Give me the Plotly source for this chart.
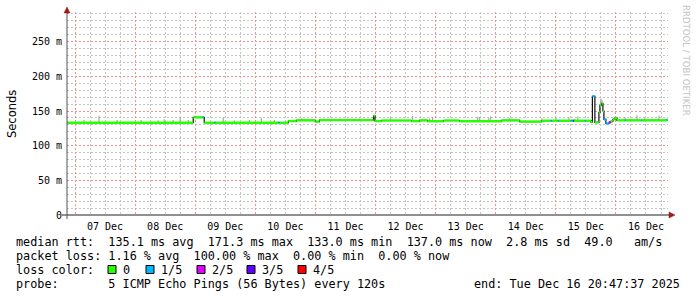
import plotly.graph_objects as go
import pandas as pd

# ---------------- data ----------------
start_time = "2025-12-06 20:47:37"
end_time = "2025-12-16 20:47:37"

med_time = [
    "2025-12-06 20:47", "2025-12-08 23:12", "2025-12-09 03:00", "2025-12-09 03:36",
    "2025-12-09 07:36", "2025-12-09 08:00", "2025-12-10 09:12", "2025-12-10 09:36",
    "2025-12-10 13:12", "2025-12-10 16:24", "2025-12-11 00:00", "2025-12-11 01:36",
    "2025-12-11 23:12", "2025-12-11 23:48", "2025-12-12 02:24", "2025-12-12 14:24",
    "2025-12-12 17:36", "2025-12-12 20:48", "2025-12-13 03:12", "2025-12-13 09:36",
    "2025-12-14 02:24", "2025-12-14 09:36", "2025-12-14 18:24", "2025-12-14 22:00",
    "2025-12-14 22:24", "2025-12-15 00:48", "2025-12-15 01:12", "2025-12-15 06:00",
    "2025-12-15 06:24", "2025-12-15 06:48", "2025-12-15 07:12", "2025-12-15 11:36",
    "2025-12-15 12:00", "2025-12-15 14:00", "2025-12-15 14:36", "2025-12-15 15:36",
    "2025-12-15 17:12", "2025-12-15 17:36", "2025-12-15 18:12", "2025-12-15 18:48",
    "2025-12-15 19:12", "2025-12-15 20:00", "2025-12-15 21:12", "2025-12-15 22:00",
    "2025-12-15 22:48", "2025-12-15 23:36", "2025-12-16 00:24", "2025-12-16 03:36",
    "2025-12-16 04:00", "2025-12-16 10:00", "2025-12-16 10:24", "2025-12-16 20:00",
    "2025-12-16 20:24",
]
med_value = [
    133.1, 140.8, 140.8, 133.1,
    133.1, 133.1, 133.1, 133.1,
    135.5, 136.5, 134.8, 136.8,
    143.0, 135.6, 136.3, 135.4,
    136.4, 135.2, 136.3, 135.2,
    136.4, 134.8, 136.0, 136.0,
    136.0, 136.0, 136.0, 136.0,
    136.0, 136.0, 136.0, 136.0,
    136.0, 134.0, 171.3, 133.5,
    148.0, 158.0, 161.0, 150.0,
    138.0, 132.0, 133.5, 135.0,
    138.0, 140.0, 136.5, 136.5,
    136.5, 136.5, 136.5, 137.0,
    137.0,
]
med_loss = [
    0, 0, 1, 0,
    1, 0, 1, 0,
    0, 0, 0, 0,
    0, 0, 0, 0,
    0, 0, 0, 0,
    0, 0, 0, 1,
    0, 1, 0, 1,
    0, 3, 0, 1,
    0, 0, 1, 0,
    0, 0, 0, 0,
    1, 1, 2, 0,
    0, 0, 0, 1,
    0, 1, 0, 1,
    0,
]

smoke_time = [
    "2025-12-07 03:36", "2025-12-07 09:36", "2025-12-07 16:48", "2025-12-08 02:24",
    "2025-12-08 09:12", "2025-12-08 11:36", "2025-12-08 15:12", "2025-12-08 18:00",
    "2025-12-08 21:12", "2025-12-09 11:12", "2025-12-09 15:36", "2025-12-09 21:36",
    "2025-12-10 02:24", "2025-12-10 07:36", "2025-12-10 18:24", "2025-12-11 09:36",
    "2025-12-11 17:36", "2025-12-11 21:36", "2025-12-12 06:00", "2025-12-12 14:48",
    "2025-12-12 21:36", "2025-12-12 22:48", "2025-12-13 16:48", "2025-12-13 17:36",
    "2025-12-13 21:12", "2025-12-13 22:00", "2025-12-14 05:36", "2025-12-14 18:24",
    "2025-12-15 00:00", "2025-12-15 05:12", "2025-12-15 07:36", "2025-12-15 08:48",
    "2025-12-15 18:00", "2025-12-15 18:24", "2025-12-16 03:36", "2025-12-16 06:00",
    "2025-12-16 08:24", "2025-12-16 11:36", "2025-12-16 17:12",
]
smoke_top = [
    137.5, 143.0, 137.0, 137.0,
    136.5, 138.0, 137.0, 141.5,
    137.0, 141.0, 136.5, 137.0,
    140.0, 137.0, 139.5, 139.0,
    139.5, 138.5, 140.4, 142.8,
    139.5, 141.8, 141.8, 141.5,
    140.0, 142.5, 140.0, 139.5,
    140.0, 141.0, 139.0, 142.0,
    168.0, 166.0, 141.5, 139.0,
    144.0, 140.0, 143.0,
]

loss_labels = ["0", "1/5", "2/5", "3/5", "4/5"]
loss_colors = ["#26ff00", "#00b8ff", "#dd00ff", "#5e00ff", "#ff0000"]

y_tickvals = [0, 50, 100, 150, 200, 250]
y_ticktext = ["0", "50 m", "100 m", "150 m", "200 m", "250 m"]

legend_rows = [
    "median rtt:  135.1 ms avg  171.3 ms max  133.0 ms min  137.0 ms now  2.8 ms sd  49.0   am/s",
    "packet loss: 1.16 % avg  100.00 % max  0.00 % min  0.00 % now",
    "loss color:",
    "probe:       5 ICMP Echo Pings (56 Bytes) every 120s",
]
end_label = "end: Tue Dec 16 20:47:37 2025"

# ---------------- layout geometry (pixels) ----------------
W, H = 697, 297
L, R, T, B = 67, 668, 12, 215
Y_MAX = (B - T) / 0.6933


def px(x):
    return (x - L) / (R - L)


def py(y):
    return (B - y) / (B - T)


MONO = "DejaVu Sans Mono"
GRID_DASH = "2px,2px"

fig = go.Figure()

# ---------------- smoke ----------------
t_med = pd.to_datetime(med_time)
sx, sy = [], []
for t, top in zip(pd.to_datetime(smoke_time), smoke_top):
    idx = max(i for i in range(len(t_med)) if t_med[i] <= t)
    sx += [t, t, None]
    sy += [med_value[idx], top, None]
fig.add_trace(go.Scatter(x=sx, y=sy, mode="lines",
                         line=dict(color="#a8a8a8", width=1.2),
                         hoverinfo="skip", showlegend=False))

# ---------------- median (dark connector) ----------------
fig.add_trace(go.Scatter(x=med_time + [end_time], y=med_value + [med_value[-1]],
                         mode="lines", line=dict(color="#101010", width=1.2, shape="hv"),
                         hoverinfo="skip", showlegend=False))

# ---------------- median coloured by loss ----------------
bounds = med_time + [end_time]
for lvl, col in enumerate(loss_colors):
    xs, ys = [], []
    for i, v in enumerate(med_value):
        if med_loss[i] == lvl:
            xs += [bounds[i], bounds[i + 1], None]
            ys += [v, v, None]
    if xs:
        fig.add_trace(go.Scatter(x=xs, y=ys, mode="lines",
                                 line=dict(color=col, width=2.4),
                                 hoverinfo="skip", showlegend=False))

# ---------------- axes ----------------
fig.update_xaxes(
    type="date", range=[start_time, end_time],
    tick0="2025-12-07", dtick=86400000, ticklabelmode="period",
    tickformat="%d %b", ticks="", showline=False, zeroline=False,
    showgrid=True, gridcolor="#f09090", griddash=GRID_DASH, gridwidth=1,
    minor=dict(dtick=6 * 3600000, showgrid=True, gridcolor="#c4c4c4",
               griddash=GRID_DASH, gridwidth=1),
    tickfont=dict(family=MONO, size=10, color="#000"),
    ticklabelstandoff=4,
)
fig.update_yaxes(
    range=[0, Y_MAX], tickvals=y_tickvals, ticktext=y_ticktext,
    ticks="", showline=False, zeroline=False,
    showgrid=True, gridcolor="#f09090", griddash=GRID_DASH, gridwidth=1,
    minor=dict(dtick=10, showgrid=True, gridcolor="#c4c4c4",
               griddash=GRID_DASH, gridwidth=1),
    tickfont=dict(family=MONO, size=10, color="#000"),
    ticklabelstandoff=4,
)

shapes = []
# axis lines
shapes.append(dict(type="line", xref="paper", yref="paper",
                   x0=px(62), x1=px(669), y0=0, y1=0,
                   line=dict(color="#222", width=1)))
shapes.append(dict(type="line", xref="paper", yref="paper",
                   x0=0, x1=0, y0=py(219), y1=py(12),
                   line=dict(color="#555", width=1)))
# arrows
shapes.append(dict(type="path", xref="paper", yref="paper",
                   path=f"M {px(669)} {py(212)} L {px(675)} {py(215)} L {px(669)} {py(218)} Z",
                   fillcolor="#9b1c1c", line=dict(color="#9b1c1c", width=0.5)))
shapes.append(dict(type="path", xref="paper", yref="paper",
                   path=f"M {px(64)} {py(13)} L {px(67)} {py(7)} L {px(70)} {py(13)} Z",
                   fillcolor="#9b1c1c", line=dict(color="#9b1c1c", width=0.5)))

annotations = []
# y axis title
annotations.append(dict(xref="paper", yref="paper", x=px(12), y=py(114),
                        text="Seconds", textangle=-90, showarrow=False,
                        font=dict(family="DejaVu Sans", size=11.5, color="#000"),
                        xanchor="center", yanchor="middle"))
# watermark
annotations.append(dict(xref="paper", yref="paper", x=px(686), y=py(60),
                        text="RRDTOOL / TOBI OETIKER", textangle=90, showarrow=False,
                        font=dict(family="DejaVu Sans", size=8.6, color="#c4c4c4"),
                        xanchor="center", yanchor="middle"))

row_y = [241.5, 255.5, 269.5, 283.5]
for text, yy in zip(legend_rows, row_y):
    annotations.append(dict(xref="paper", yref="paper", x=px(14), y=py(yy),
                            text=text.replace(" ", "&nbsp;"), showarrow=False,
                            font=dict(family=MONO, size=11.8, color="#000"),
                            xanchor="left", yanchor="middle"))
annotations.append(dict(xref="paper", yref="paper", x=px(682), y=py(row_y[3]),
                        text=end_label.replace(" ", "&nbsp;"), showarrow=False,
                        font=dict(family=MONO, size=11.8, color="#000"),
                        xanchor="right", yanchor="middle"))

box_x = [108, 146, 197, 247, 298]
for bx, lab, col in zip(box_x, loss_labels, loss_colors):
    shapes.append(dict(type="rect", xref="paper", yref="paper",
                       x0=px(bx), x1=px(bx + 8), y0=py(273.5), y1=py(265.5),
                       fillcolor=col, line=dict(color="#000", width=1)))
    annotations.append(dict(xref="paper", yref="paper", x=px(bx + 13), y=py(row_y[2]),
                            text=lab, showarrow=False,
                            font=dict(family=MONO, size=11.8, color="#000"),
                            xanchor="left", yanchor="middle"))

fig.update_layout(
    width=W, height=H,
    margin=dict(l=L, r=W - R, t=T, b=H - B),
    paper_bgcolor="#ffffff", plot_bgcolor="#ffffff",
    showlegend=False, shapes=shapes, annotations=annotations,
)

fig.write_html("out.html")
